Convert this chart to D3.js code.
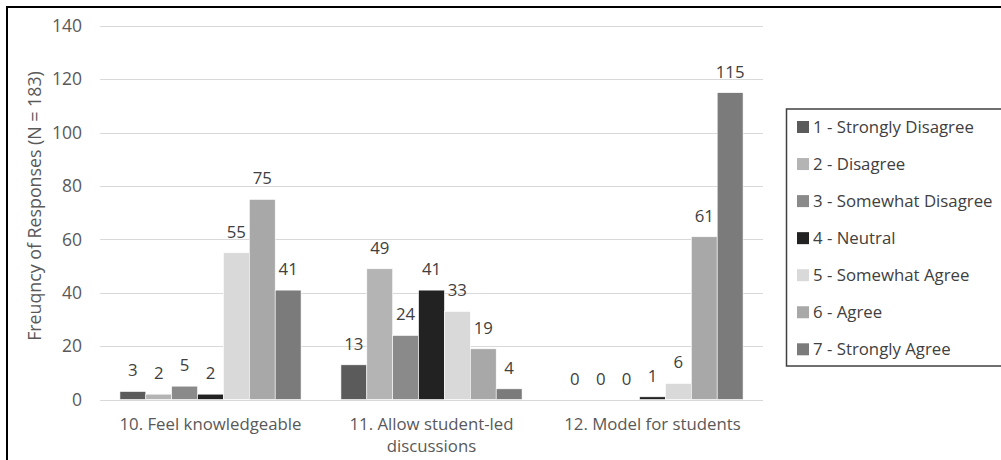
<!DOCTYPE html>
<html><head><meta charset="utf-8">
<script src="https://cdn.jsdelivr.net/npm/d3@7"></script>
<style>
body{margin:0;background:#fff;}
svg{display:block;font-family:"Open Sans",sans-serif;}
</style></head>
<body><svg id="c" width="1001" height="460"></svg>
<script>
const categories = [["10. Feel knowledgeable"], ["11. Allow student-led", "discussions"], ["12. Model for students"]];
const seriesNames = ["1 - Strongly Disagree","2 - Disagree","3 - Somewhat Disagree","4 - Neutral","5 - Somewhat Agree","6 - Agree","7 - Strongly Agree"];
const s1 = [3, 13, 0];
const s2 = [2, 49, 0];
const s3 = [5, 24, 0];
const s4 = [2, 41, 1];
const s5 = [55, 33, 6];
const s6 = [75, 19, 61];
const s7 = [41, 4, 115];
const seriesValues = [s1, s2, s3, s4, s5, s6, s7];
const seriesColors = ["#5b5b5b","#b4b4b4","#8a8a8a","#222222","#d9d9d9","#a8a8a8","#7b7b7b"];
const yTicks = [0, 20, 40, 60, 80, 100, 120, 140];
const yTitle = "Freuqncy of Responses (N = 183)";

const FS = 16.8;
const svg = d3.select("#c");
// outer frame
svg.append("rect").attr("x",7).attr("y",7).attr("width",1100).attr("height",600)
  .attr("fill","none").attr("stroke","#000").attr("stroke-width",2);

const x0 = d3.scaleBand().domain(d3.range(categories.length)).range([100, 763]).paddingInner(0).paddingOuter(0);
const x1 = d3.scaleBand().domain(d3.range(seriesValues.length)).range([0, x0.bandwidth()]).paddingInner(0).paddingOuter(0.77);
const y = d3.scaleLinear().domain([0, 140]).range([399.5, 26]);

// gridlines
svg.append("g").selectAll("line").data(yTicks).join("line")
  .attr("x1",100).attr("x2",763).attr("y1",d=>Math.round(y(d))+0.5).attr("y2",d=>Math.round(y(d))+0.5)
  .attr("stroke","#d9d9d9").attr("stroke-width",1);

// y axis labels
const yAxis = d3.axisLeft(y).tickValues(yTicks).tickSize(0).tickPadding(0);
const ga = svg.append("g").attr("transform","translate(82,0)").call(yAxis);
ga.select(".domain").remove();
ga.selectAll("text").attr("font-size",17.5).attr("fill","#595959").attr("font-family","Open Sans");

// y title
svg.append("text").attr("transform","translate(41,206) rotate(-90)").attr("text-anchor","middle")
  .attr("font-size",17.8).attr("fill","#595959").text(yTitle);

// bars
const groups = svg.append("g").selectAll("g").data(categories).join("g")
  .attr("transform",(d,i)=>`translate(${x0(i)},0)`);
groups.each(function(cat, ci){
  const g = d3.select(this);
  const vals = seriesValues.map((s,si)=>({si, v:s[ci]}));
  g.selectAll("rect").data(vals).join("rect")
    .attr("x",d=>x1(d.si)).attr("width",x1.bandwidth())
    .attr("y",d=>y(d.v)).attr("height",d=>y(0)-y(d.v))
    .attr("fill",d=>seriesColors[d.si]).attr("stroke","#fff").attr("stroke-width",0.6);
  g.selectAll("text.lbl").data(vals).join("text").attr("class","lbl")
    .attr("x",d=>x1(d.si)+x1.bandwidth()/2).attr("y",d=>y(d.v)-15)
    .attr("text-anchor","middle").attr("font-size",FS).attr("fill","#404040").text(d=>d.v);
});

// category labels
categories.forEach((lines, i)=>{
  const t = svg.append("text").attr("text-anchor","middle").attr("font-size",FS).attr("fill","#595959");
  lines.forEach((ln, li)=>{
    t.append("tspan").attr("x", x0(i)+x0.bandwidth()/2).attr("y", 430+li*22).text(ln);
  });
});

// legend
svg.append("rect").attr("x",786.5).attr("y",109).attr("width",240).attr("height",257)
  .attr("fill","#fff").attr("stroke","#404040").attr("stroke-width",1.5);
const lg = svg.append("g").selectAll("g").data(seriesNames).join("g")
  .attr("transform",(d,i)=>`translate(797,${127+i*37.05})`);
lg.append("rect").attr("x",0).attr("y",-6).attr("width",12).attr("height",12).attr("fill",(d,i)=>seriesColors[i]);
lg.append("text").attr("x",16).attr("y",6).attr("font-size",FS).attr("fill","#404040").text(d=>d);
</script></body></html>
